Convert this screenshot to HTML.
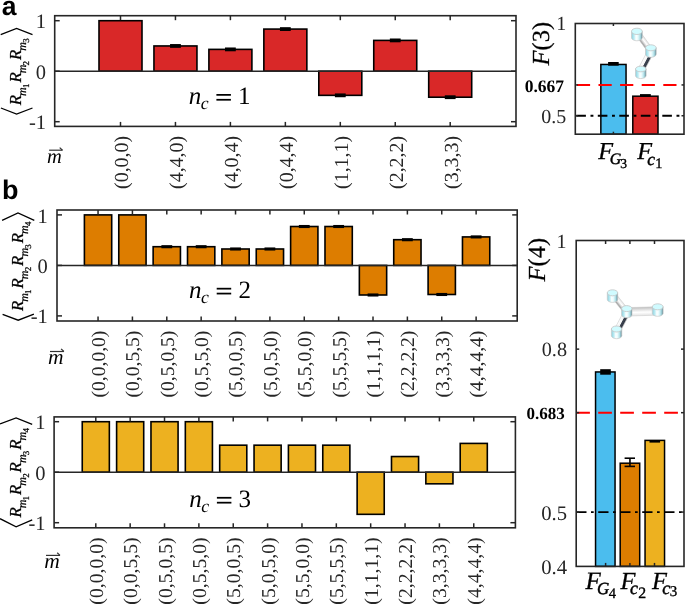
<!DOCTYPE html><html><head><meta charset="utf-8"><style>html,body{margin:0;padding:0;background:#fff;}svg{display:block;will-change:transform;}</style></head><body>
<svg width="685" height="605" viewBox="0 0 685 605" text-rendering="geometricPrecision">
<rect width="685" height="605" fill="#fff"/>
<text x="1.7" y="14.5" font-family='"Liberation Sans", sans-serif' font-weight="bold" font-size="26.5">a</text>
<text x="2" y="199" font-family='"Liberation Sans", sans-serif' font-weight="bold" font-size="27">b</text>
<rect x="99" y="20.7" width="43" height="50.5" fill="#d92828" stroke="#000" stroke-width="1.6"/>
<rect x="153.95" y="45.95" width="43" height="25.25" fill="#d92828" stroke="#000" stroke-width="1.6"/>
<rect x="170.05" y="44.05" width="10.8" height="3.8" fill="#000"/>
<rect x="208.9" y="49.38" width="43" height="21.82" fill="#d92828" stroke="#000" stroke-width="1.6"/>
<rect x="225" y="47.48" width="10.8" height="3.8" fill="#000"/>
<rect x="263.85" y="29.08" width="43" height="42.12" fill="#d92828" stroke="#000" stroke-width="1.6"/>
<rect x="279.95" y="27.18" width="10.8" height="3.8" fill="#000"/>
<rect x="318.8" y="71.2" width="43" height="24.14" fill="#d92828" stroke="#000" stroke-width="1.6"/>
<rect x="334.9" y="93.44" width="10.8" height="3.8" fill="#000"/>
<rect x="373.75" y="40.4" width="43" height="30.8" fill="#d92828" stroke="#000" stroke-width="1.6"/>
<rect x="389.85" y="38.5" width="10.8" height="3.8" fill="#000"/>
<rect x="428.7" y="71.2" width="43" height="26.01" fill="#d92828" stroke="#000" stroke-width="1.6"/>
<rect x="444.8" y="95.31" width="10.8" height="3.8" fill="#000"/>
<line x1="54.7" y1="71.2" x2="516" y2="71.2" stroke="#262626" stroke-width="1.5"/>
<rect x="54.7" y="15.7" width="461.3" height="110.7" fill="none" stroke="#262626" stroke-width="1.6"/>
<line x1="54.7" y1="20.7" x2="59.7" y2="20.7" stroke="#262626" stroke-width="1.5"/>
<line x1="516" y1="20.7" x2="511" y2="20.7" stroke="#262626" stroke-width="1.5"/>
<line x1="54.7" y1="71.2" x2="59.7" y2="71.2" stroke="#262626" stroke-width="1.5"/>
<line x1="516" y1="71.2" x2="511" y2="71.2" stroke="#262626" stroke-width="1.5"/>
<line x1="54.7" y1="121.7" x2="59.7" y2="121.7" stroke="#262626" stroke-width="1.5"/>
<line x1="516" y1="121.7" x2="511" y2="121.7" stroke="#262626" stroke-width="1.5"/>
<line x1="120.5" y1="15.7" x2="120.5" y2="20.2" stroke="#262626" stroke-width="1.5"/>
<line x1="120.5" y1="126.4" x2="120.5" y2="121.9" stroke="#262626" stroke-width="1.5"/>
<line x1="175.45" y1="15.7" x2="175.45" y2="20.2" stroke="#262626" stroke-width="1.5"/>
<line x1="175.45" y1="126.4" x2="175.45" y2="121.9" stroke="#262626" stroke-width="1.5"/>
<line x1="230.4" y1="15.7" x2="230.4" y2="20.2" stroke="#262626" stroke-width="1.5"/>
<line x1="230.4" y1="126.4" x2="230.4" y2="121.9" stroke="#262626" stroke-width="1.5"/>
<line x1="285.35" y1="15.7" x2="285.35" y2="20.2" stroke="#262626" stroke-width="1.5"/>
<line x1="285.35" y1="126.4" x2="285.35" y2="121.9" stroke="#262626" stroke-width="1.5"/>
<line x1="340.3" y1="15.7" x2="340.3" y2="20.2" stroke="#262626" stroke-width="1.5"/>
<line x1="340.3" y1="126.4" x2="340.3" y2="121.9" stroke="#262626" stroke-width="1.5"/>
<line x1="395.25" y1="15.7" x2="395.25" y2="20.2" stroke="#262626" stroke-width="1.5"/>
<line x1="395.25" y1="126.4" x2="395.25" y2="121.9" stroke="#262626" stroke-width="1.5"/>
<line x1="450.2" y1="15.7" x2="450.2" y2="20.2" stroke="#262626" stroke-width="1.5"/>
<line x1="450.2" y1="126.4" x2="450.2" y2="121.9" stroke="#262626" stroke-width="1.5"/>
<text x="46" y="28" text-anchor="end" font-family='"Liberation Serif", serif' font-size="20.5" fill="#262626">1</text>
<text x="46" y="79" text-anchor="end" font-family='"Liberation Serif", serif' font-size="20.5" fill="#262626">0</text>
<text x="46" y="129" text-anchor="end" font-family='"Liberation Serif", serif' font-size="20.5" fill="#262626">-1</text>
<text transform="translate(127.7,135.9) rotate(-90)" text-anchor="end" font-family='"Liberation Serif", serif' font-size="19.9" fill="#262626">(0,0,0)</text>
<text transform="translate(182.7,135.9) rotate(-90)" text-anchor="end" font-family='"Liberation Serif", serif' font-size="19.9" fill="#262626">(4,4,0)</text>
<text transform="translate(237.7,135.9) rotate(-90)" text-anchor="end" font-family='"Liberation Serif", serif' font-size="19.9" fill="#262626">(4,0,4)</text>
<text transform="translate(292.7,135.9) rotate(-90)" text-anchor="end" font-family='"Liberation Serif", serif' font-size="19.9" fill="#262626">(0,4,4)</text>
<text transform="translate(347.7,135.9) rotate(-90)" text-anchor="end" font-family='"Liberation Serif", serif' font-size="19.9" fill="#262626">(1,1,1)</text>
<text transform="translate(402.7,135.9) rotate(-90)" text-anchor="end" font-family='"Liberation Serif", serif' font-size="19.9" fill="#262626">(2,2,2)</text>
<text transform="translate(457.7,135.9) rotate(-90)" text-anchor="end" font-family='"Liberation Serif", serif' font-size="19.9" fill="#262626">(3,3,3)</text>
<text x="46.9" y="162.5" font-family='"Liberation Serif", serif' font-style="italic" font-size="20.5" fill="#000">m</text>
<line x1="49.1" y1="150.2" x2="62.5" y2="150.2" stroke="#333" stroke-width="1.2"/>
<path d="M59.7 147.6 L62.5 150.2" stroke="#333" stroke-width="1.2" fill="none"/>
<text x="188.7" y="103.8" font-family='"Liberation Serif", serif' font-style="italic" font-size="25" fill="#000">n</text>
<text x="200.8" y="109.4" font-family='"Liberation Serif", serif' font-style="italic" font-size="17.7" fill="#000">c</text>
<rect x="216.4" y="94" width="14.5" height="1.75" fill="#000"/>
<rect x="216.4" y="98.9" width="14.5" height="1.75" fill="#000"/>
<text x="238.1" y="104" font-family='"Liberation Serif", serif' font-size="25" fill="#000">1</text>
<text transform="translate(21.1,105.2) rotate(-90)" font-family='"Liberation Serif", serif' font-size="16.8" fill="#000" stroke="#000" stroke-width="0.25"><tspan x="0" y="0" font-style="italic">R</tspan><tspan x="9.3" y="5.3" font-style="italic" font-size="12">m</tspan><tspan x="17.2" y="7.6" font-size="9">1</tspan><tspan x="22.6" y="0" font-style="italic">R</tspan><tspan x="31.9" y="5.3" font-style="italic" font-size="12">m</tspan><tspan x="39.8" y="7.6" font-size="9">2</tspan><tspan x="45.2" y="0" font-style="italic">R</tspan><tspan x="54.5" y="5.3" font-style="italic" font-size="12">m</tspan><tspan x="62.4" y="7.6" font-size="9">3</tspan></text>
<polyline points="0.7,34.6 16.6,28.5 32.5,34.6" fill="none" stroke="#000" stroke-width="1.3"/>
<polyline points="0.9,108 16.6,114.1 32.5,108" fill="none" stroke="#000" stroke-width="1.3"/>
<rect x="84.4" y="214.9" width="27.3" height="50.5" fill="#dd7d00" stroke="#000" stroke-width="1.6"/>
<rect x="118.77" y="214.9" width="27.3" height="50.5" fill="#dd7d00" stroke="#000" stroke-width="1.6"/>
<rect x="153.14" y="246.71" width="27.3" height="18.69" fill="#dd7d00" stroke="#000" stroke-width="1.6"/>
<rect x="161.39" y="245.16" width="10.8" height="3.1" fill="#000"/>
<rect x="187.51" y="246.71" width="27.3" height="18.69" fill="#dd7d00" stroke="#000" stroke-width="1.6"/>
<rect x="195.76" y="245.16" width="10.8" height="3.1" fill="#000"/>
<rect x="221.88" y="248.99" width="27.3" height="16.41" fill="#dd7d00" stroke="#000" stroke-width="1.6"/>
<rect x="230.13" y="247.44" width="10.8" height="3.1" fill="#000"/>
<rect x="256.25" y="248.99" width="27.3" height="16.41" fill="#dd7d00" stroke="#000" stroke-width="1.6"/>
<rect x="264.5" y="247.44" width="10.8" height="3.1" fill="#000"/>
<rect x="290.62" y="226.51" width="27.3" height="38.88" fill="#dd7d00" stroke="#000" stroke-width="1.6"/>
<rect x="298.87" y="224.96" width="10.8" height="3.1" fill="#000"/>
<rect x="324.99" y="226.51" width="27.3" height="38.88" fill="#dd7d00" stroke="#000" stroke-width="1.6"/>
<rect x="333.24" y="224.96" width="10.8" height="3.1" fill="#000"/>
<rect x="359.36" y="265.4" width="27.3" height="29.59" fill="#dd7d00" stroke="#000" stroke-width="1.6"/>
<rect x="367.61" y="293.44" width="10.8" height="3.1" fill="#000"/>
<rect x="393.73" y="239.7" width="27.3" height="25.7" fill="#dd7d00" stroke="#000" stroke-width="1.6"/>
<rect x="401.98" y="238.15" width="10.8" height="3.1" fill="#000"/>
<rect x="428.1" y="265.4" width="27.3" height="29.09" fill="#dd7d00" stroke="#000" stroke-width="1.6"/>
<rect x="436.35" y="292.94" width="10.8" height="3.1" fill="#000"/>
<rect x="462.47" y="236.92" width="27.3" height="28.48" fill="#dd7d00" stroke="#000" stroke-width="1.6"/>
<rect x="470.72" y="235.37" width="10.8" height="3.1" fill="#000"/>
<line x1="57" y1="265.4" x2="517.2" y2="265.4" stroke="#262626" stroke-width="1.5"/>
<rect x="57" y="210" width="460.2" height="111" fill="none" stroke="#262626" stroke-width="1.6"/>
<line x1="57" y1="214.9" x2="62" y2="214.9" stroke="#262626" stroke-width="1.5"/>
<line x1="517.2" y1="214.9" x2="512.2" y2="214.9" stroke="#262626" stroke-width="1.5"/>
<line x1="57" y1="265.4" x2="62" y2="265.4" stroke="#262626" stroke-width="1.5"/>
<line x1="517.2" y1="265.4" x2="512.2" y2="265.4" stroke="#262626" stroke-width="1.5"/>
<line x1="57" y1="315.9" x2="62" y2="315.9" stroke="#262626" stroke-width="1.5"/>
<line x1="517.2" y1="315.9" x2="512.2" y2="315.9" stroke="#262626" stroke-width="1.5"/>
<line x1="98.05" y1="210" x2="98.05" y2="214.5" stroke="#262626" stroke-width="1.5"/>
<line x1="98.05" y1="321" x2="98.05" y2="316.5" stroke="#262626" stroke-width="1.5"/>
<line x1="132.42" y1="210" x2="132.42" y2="214.5" stroke="#262626" stroke-width="1.5"/>
<line x1="132.42" y1="321" x2="132.42" y2="316.5" stroke="#262626" stroke-width="1.5"/>
<line x1="166.79" y1="210" x2="166.79" y2="214.5" stroke="#262626" stroke-width="1.5"/>
<line x1="166.79" y1="321" x2="166.79" y2="316.5" stroke="#262626" stroke-width="1.5"/>
<line x1="201.16" y1="210" x2="201.16" y2="214.5" stroke="#262626" stroke-width="1.5"/>
<line x1="201.16" y1="321" x2="201.16" y2="316.5" stroke="#262626" stroke-width="1.5"/>
<line x1="235.53" y1="210" x2="235.53" y2="214.5" stroke="#262626" stroke-width="1.5"/>
<line x1="235.53" y1="321" x2="235.53" y2="316.5" stroke="#262626" stroke-width="1.5"/>
<line x1="269.9" y1="210" x2="269.9" y2="214.5" stroke="#262626" stroke-width="1.5"/>
<line x1="269.9" y1="321" x2="269.9" y2="316.5" stroke="#262626" stroke-width="1.5"/>
<line x1="304.27" y1="210" x2="304.27" y2="214.5" stroke="#262626" stroke-width="1.5"/>
<line x1="304.27" y1="321" x2="304.27" y2="316.5" stroke="#262626" stroke-width="1.5"/>
<line x1="338.64" y1="210" x2="338.64" y2="214.5" stroke="#262626" stroke-width="1.5"/>
<line x1="338.64" y1="321" x2="338.64" y2="316.5" stroke="#262626" stroke-width="1.5"/>
<line x1="373.01" y1="210" x2="373.01" y2="214.5" stroke="#262626" stroke-width="1.5"/>
<line x1="373.01" y1="321" x2="373.01" y2="316.5" stroke="#262626" stroke-width="1.5"/>
<line x1="407.38" y1="210" x2="407.38" y2="214.5" stroke="#262626" stroke-width="1.5"/>
<line x1="407.38" y1="321" x2="407.38" y2="316.5" stroke="#262626" stroke-width="1.5"/>
<line x1="441.75" y1="210" x2="441.75" y2="214.5" stroke="#262626" stroke-width="1.5"/>
<line x1="441.75" y1="321" x2="441.75" y2="316.5" stroke="#262626" stroke-width="1.5"/>
<line x1="476.12" y1="210" x2="476.12" y2="214.5" stroke="#262626" stroke-width="1.5"/>
<line x1="476.12" y1="321" x2="476.12" y2="316.5" stroke="#262626" stroke-width="1.5"/>
<text x="47.8" y="223" text-anchor="end" font-family='"Liberation Serif", serif' font-size="20.5" fill="#262626">1</text>
<text x="47.8" y="273" text-anchor="end" font-family='"Liberation Serif", serif' font-size="20.5" fill="#262626">0</text>
<text x="47.8" y="323" text-anchor="end" font-family='"Liberation Serif", serif' font-size="20.5" fill="#262626">-1</text>
<text transform="translate(104.95,330.6) rotate(-90)" text-anchor="end" font-family='"Liberation Serif", serif' font-size="19.6" fill="#262626">(0,0,0,0)</text>
<text transform="translate(139.32,330.6) rotate(-90)" text-anchor="end" font-family='"Liberation Serif", serif' font-size="19.6" fill="#262626">(0,0,5,5)</text>
<text transform="translate(173.69,330.6) rotate(-90)" text-anchor="end" font-family='"Liberation Serif", serif' font-size="19.6" fill="#262626">(0,5,0,5)</text>
<text transform="translate(208.06,330.6) rotate(-90)" text-anchor="end" font-family='"Liberation Serif", serif' font-size="19.6" fill="#262626">(0,5,5,0)</text>
<text transform="translate(242.43,330.6) rotate(-90)" text-anchor="end" font-family='"Liberation Serif", serif' font-size="19.6" fill="#262626">(5,0,0,5)</text>
<text transform="translate(276.8,330.6) rotate(-90)" text-anchor="end" font-family='"Liberation Serif", serif' font-size="19.6" fill="#262626">(5,0,5,0)</text>
<text transform="translate(311.17,330.6) rotate(-90)" text-anchor="end" font-family='"Liberation Serif", serif' font-size="19.6" fill="#262626">(5,5,0,0)</text>
<text transform="translate(345.54,330.6) rotate(-90)" text-anchor="end" font-family='"Liberation Serif", serif' font-size="19.6" fill="#262626">(5,5,5,5)</text>
<text transform="translate(379.91,330.6) rotate(-90)" text-anchor="end" font-family='"Liberation Serif", serif' font-size="19.6" fill="#262626">(1,1,1,1)</text>
<text transform="translate(414.28,330.6) rotate(-90)" text-anchor="end" font-family='"Liberation Serif", serif' font-size="19.6" fill="#262626">(2,2,2,2)</text>
<text transform="translate(448.65,330.6) rotate(-90)" text-anchor="end" font-family='"Liberation Serif", serif' font-size="19.6" fill="#262626">(3,3,3,3)</text>
<text transform="translate(483.02,330.6) rotate(-90)" text-anchor="end" font-family='"Liberation Serif", serif' font-size="19.6" fill="#262626">(4,4,4,4)</text>
<text x="48.1" y="364.3" font-family='"Liberation Serif", serif' font-style="italic" font-size="21.5" fill="#000">m</text>
<line x1="50" y1="351.5" x2="63.9" y2="351.5" stroke="#333" stroke-width="1.2"/>
<path d="M61.1 348.9 L63.9 351.5" stroke="#333" stroke-width="1.2" fill="none"/>
<text x="189" y="297.6" font-family='"Liberation Serif", serif' font-style="italic" font-size="25" fill="#000">n</text>
<text x="201.1" y="303.2" font-family='"Liberation Serif", serif' font-style="italic" font-size="17.7" fill="#000">c</text>
<rect x="216.7" y="287.8" width="14.5" height="1.75" fill="#000"/>
<rect x="216.7" y="292.7" width="14.5" height="1.75" fill="#000"/>
<text x="238.4" y="297.8" font-family='"Liberation Serif", serif' font-size="25" fill="#000">2</text>
<text transform="translate(22.9,311.1) rotate(-90)" font-family='"Liberation Serif", serif' font-size="16.8" fill="#000" stroke="#000" stroke-width="0.25"><tspan x="0" y="0" font-style="italic">R</tspan><tspan x="9.3" y="5.3" font-style="italic" font-size="12">m</tspan><tspan x="17.2" y="7.6" font-size="9">1</tspan><tspan x="22.6" y="0" font-style="italic">R</tspan><tspan x="31.9" y="5.3" font-style="italic" font-size="12">m</tspan><tspan x="39.8" y="7.6" font-size="9">2</tspan><tspan x="45.2" y="0" font-style="italic">R</tspan><tspan x="54.5" y="5.3" font-style="italic" font-size="12">m</tspan><tspan x="62.4" y="7.6" font-size="9">3</tspan><tspan x="67.8" y="0" font-style="italic">R</tspan><tspan x="77.1" y="5.3" font-style="italic" font-size="12">m</tspan><tspan x="85" y="7.6" font-size="9">4</tspan></text>
<polyline points="2.1,220.4 18,212.9 34.3,220.4" fill="none" stroke="#000" stroke-width="1.3"/>
<polyline points="2.6,314.3 18.2,320.2 33.9,314.1" fill="none" stroke="#000" stroke-width="1.3"/>
<rect x="82.25" y="421.7" width="27.1" height="50.5" fill="#edb120" stroke="#000" stroke-width="1.6"/>
<rect x="116.61" y="421.7" width="27.1" height="50.5" fill="#edb120" stroke="#000" stroke-width="1.6"/>
<rect x="150.97" y="421.7" width="27.1" height="50.5" fill="#edb120" stroke="#000" stroke-width="1.6"/>
<rect x="185.33" y="421.7" width="27.1" height="50.5" fill="#edb120" stroke="#000" stroke-width="1.6"/>
<rect x="219.69" y="445.18" width="27.1" height="27.02" fill="#edb120" stroke="#000" stroke-width="1.6"/>
<rect x="254.05" y="445.18" width="27.1" height="27.02" fill="#edb120" stroke="#000" stroke-width="1.6"/>
<rect x="288.41" y="445.18" width="27.1" height="27.02" fill="#edb120" stroke="#000" stroke-width="1.6"/>
<rect x="322.77" y="445.18" width="27.1" height="27.02" fill="#edb120" stroke="#000" stroke-width="1.6"/>
<rect x="357.13" y="472.2" width="27.1" height="42.12" fill="#edb120" stroke="#000" stroke-width="1.6"/>
<rect x="391.49" y="456.55" width="27.1" height="15.65" fill="#edb120" stroke="#000" stroke-width="1.6"/>
<rect x="425.85" y="472.2" width="27.1" height="11.62" fill="#edb120" stroke="#000" stroke-width="1.6"/>
<rect x="460.21" y="443.41" width="27.1" height="28.79" fill="#edb120" stroke="#000" stroke-width="1.6"/>
<line x1="54.1" y1="472.2" x2="515.4" y2="472.2" stroke="#262626" stroke-width="1.5"/>
<rect x="54.1" y="416.9" width="461.3" height="110.9" fill="none" stroke="#262626" stroke-width="1.6"/>
<line x1="54.1" y1="421.7" x2="59.1" y2="421.7" stroke="#262626" stroke-width="1.5"/>
<line x1="515.4" y1="421.7" x2="510.4" y2="421.7" stroke="#262626" stroke-width="1.5"/>
<line x1="54.1" y1="472.2" x2="59.1" y2="472.2" stroke="#262626" stroke-width="1.5"/>
<line x1="515.4" y1="472.2" x2="510.4" y2="472.2" stroke="#262626" stroke-width="1.5"/>
<line x1="54.1" y1="522.7" x2="59.1" y2="522.7" stroke="#262626" stroke-width="1.5"/>
<line x1="515.4" y1="522.7" x2="510.4" y2="522.7" stroke="#262626" stroke-width="1.5"/>
<line x1="95.8" y1="416.9" x2="95.8" y2="421.4" stroke="#262626" stroke-width="1.5"/>
<line x1="95.8" y1="527.8" x2="95.8" y2="523.3" stroke="#262626" stroke-width="1.5"/>
<line x1="130.16" y1="416.9" x2="130.16" y2="421.4" stroke="#262626" stroke-width="1.5"/>
<line x1="130.16" y1="527.8" x2="130.16" y2="523.3" stroke="#262626" stroke-width="1.5"/>
<line x1="164.52" y1="416.9" x2="164.52" y2="421.4" stroke="#262626" stroke-width="1.5"/>
<line x1="164.52" y1="527.8" x2="164.52" y2="523.3" stroke="#262626" stroke-width="1.5"/>
<line x1="198.88" y1="416.9" x2="198.88" y2="421.4" stroke="#262626" stroke-width="1.5"/>
<line x1="198.88" y1="527.8" x2="198.88" y2="523.3" stroke="#262626" stroke-width="1.5"/>
<line x1="233.24" y1="416.9" x2="233.24" y2="421.4" stroke="#262626" stroke-width="1.5"/>
<line x1="233.24" y1="527.8" x2="233.24" y2="523.3" stroke="#262626" stroke-width="1.5"/>
<line x1="267.6" y1="416.9" x2="267.6" y2="421.4" stroke="#262626" stroke-width="1.5"/>
<line x1="267.6" y1="527.8" x2="267.6" y2="523.3" stroke="#262626" stroke-width="1.5"/>
<line x1="301.96" y1="416.9" x2="301.96" y2="421.4" stroke="#262626" stroke-width="1.5"/>
<line x1="301.96" y1="527.8" x2="301.96" y2="523.3" stroke="#262626" stroke-width="1.5"/>
<line x1="336.32" y1="416.9" x2="336.32" y2="421.4" stroke="#262626" stroke-width="1.5"/>
<line x1="336.32" y1="527.8" x2="336.32" y2="523.3" stroke="#262626" stroke-width="1.5"/>
<line x1="370.68" y1="416.9" x2="370.68" y2="421.4" stroke="#262626" stroke-width="1.5"/>
<line x1="370.68" y1="527.8" x2="370.68" y2="523.3" stroke="#262626" stroke-width="1.5"/>
<line x1="405.04" y1="416.9" x2="405.04" y2="421.4" stroke="#262626" stroke-width="1.5"/>
<line x1="405.04" y1="527.8" x2="405.04" y2="523.3" stroke="#262626" stroke-width="1.5"/>
<line x1="439.4" y1="416.9" x2="439.4" y2="421.4" stroke="#262626" stroke-width="1.5"/>
<line x1="439.4" y1="527.8" x2="439.4" y2="523.3" stroke="#262626" stroke-width="1.5"/>
<line x1="473.76" y1="416.9" x2="473.76" y2="421.4" stroke="#262626" stroke-width="1.5"/>
<line x1="473.76" y1="527.8" x2="473.76" y2="523.3" stroke="#262626" stroke-width="1.5"/>
<text x="45.5" y="429" text-anchor="end" font-family='"Liberation Serif", serif' font-size="20.5" fill="#262626">1</text>
<text x="45.5" y="480" text-anchor="end" font-family='"Liberation Serif", serif' font-size="20.5" fill="#262626">0</text>
<text x="45.5" y="530" text-anchor="end" font-family='"Liberation Serif", serif' font-size="20.5" fill="#262626">-1</text>
<text transform="translate(102.8,537.4) rotate(-90)" text-anchor="end" font-family='"Liberation Serif", serif' font-size="19.7" fill="#262626">(0,0,0,0)</text>
<text transform="translate(137.16,537.4) rotate(-90)" text-anchor="end" font-family='"Liberation Serif", serif' font-size="19.7" fill="#262626">(0,0,5,5)</text>
<text transform="translate(171.52,537.4) rotate(-90)" text-anchor="end" font-family='"Liberation Serif", serif' font-size="19.7" fill="#262626">(0,5,0,5)</text>
<text transform="translate(205.88,537.4) rotate(-90)" text-anchor="end" font-family='"Liberation Serif", serif' font-size="19.7" fill="#262626">(0,5,5,0)</text>
<text transform="translate(240.24,537.4) rotate(-90)" text-anchor="end" font-family='"Liberation Serif", serif' font-size="19.7" fill="#262626">(5,0,0,5)</text>
<text transform="translate(274.6,537.4) rotate(-90)" text-anchor="end" font-family='"Liberation Serif", serif' font-size="19.7" fill="#262626">(5,0,5,0)</text>
<text transform="translate(308.96,537.4) rotate(-90)" text-anchor="end" font-family='"Liberation Serif", serif' font-size="19.7" fill="#262626">(5,5,0,0)</text>
<text transform="translate(343.32,537.4) rotate(-90)" text-anchor="end" font-family='"Liberation Serif", serif' font-size="19.7" fill="#262626">(5,5,5,5)</text>
<text transform="translate(377.68,537.4) rotate(-90)" text-anchor="end" font-family='"Liberation Serif", serif' font-size="19.7" fill="#262626">(1,1,1,1)</text>
<text transform="translate(412.04,537.4) rotate(-90)" text-anchor="end" font-family='"Liberation Serif", serif' font-size="19.7" fill="#262626">(2,2,2,2)</text>
<text transform="translate(446.4,537.4) rotate(-90)" text-anchor="end" font-family='"Liberation Serif", serif' font-size="19.7" fill="#262626">(3,3,3,3)</text>
<text transform="translate(480.76,537.4) rotate(-90)" text-anchor="end" font-family='"Liberation Serif", serif' font-size="19.7" fill="#262626">(4,4,4,4)</text>
<text x="44.3" y="568.1" font-family='"Liberation Serif", serif' font-style="italic" font-size="21.5" fill="#000">m</text>
<line x1="46" y1="555.4" x2="60" y2="555.4" stroke="#333" stroke-width="1.2"/>
<path d="M57.2 552.8 L60 555.4" stroke="#333" stroke-width="1.2" fill="none"/>
<text x="189.2" y="506.7" font-family='"Liberation Serif", serif' font-style="italic" font-size="25" fill="#000">n</text>
<text x="201.3" y="512.3" font-family='"Liberation Serif", serif' font-style="italic" font-size="17.7" fill="#000">c</text>
<rect x="216.9" y="496.9" width="14.5" height="1.75" fill="#000"/>
<rect x="216.9" y="501.8" width="14.5" height="1.75" fill="#000"/>
<text x="238.6" y="506.9" font-family='"Liberation Serif", serif' font-size="25" fill="#000">3</text>
<text transform="translate(20.9,517.6) rotate(-90)" font-family='"Liberation Serif", serif' font-size="16.8" fill="#000" stroke="#000" stroke-width="0.25"><tspan x="0" y="0" font-style="italic">R</tspan><tspan x="9.3" y="5.3" font-style="italic" font-size="12">m</tspan><tspan x="17.2" y="7.6" font-size="9">1</tspan><tspan x="22.6" y="0" font-style="italic">R</tspan><tspan x="31.9" y="5.3" font-style="italic" font-size="12">m</tspan><tspan x="39.8" y="7.6" font-size="9">2</tspan><tspan x="45.2" y="0" font-style="italic">R</tspan><tspan x="54.5" y="5.3" font-style="italic" font-size="12">m</tspan><tspan x="62.4" y="7.6" font-size="9">3</tspan><tspan x="67.8" y="0" font-style="italic">R</tspan><tspan x="77.1" y="5.3" font-style="italic" font-size="12">m</tspan><tspan x="85" y="7.6" font-size="9">4</tspan></text>
<polyline points="0,423.9 16.1,417.9 32.2,424.3" fill="none" stroke="#000" stroke-width="1.3"/>
<polyline points="0,518.7 16.1,526.9 32.2,519.8" fill="none" stroke="#000" stroke-width="1.3"/>
<rect x="600.85" y="64.46" width="25.2" height="69.74" fill="#4bbdee" stroke="#000" stroke-width="1.5"/>
<rect x="632.8" y="96.19" width="25.2" height="38.01" fill="#d92828" stroke="#000" stroke-width="1.5"/>
<rect x="608.1" y="62" width="10.6" height="3.7" fill="#000"/>
<rect x="640" y="94.1" width="10.8" height="2.8" fill="#000"/>
<line x1="576.9" y1="84.94" x2="683.2" y2="84.94" stroke="#ff0000" stroke-width="2" stroke-dasharray="13.2 8.4"/>
<line x1="576.3" y1="115.75" x2="683.2" y2="115.75" stroke="#000" stroke-width="1.8" stroke-dasharray="9.6 4.6 2.9 4.4"/>
<line x1="575.3" y1="115.75" x2="577.8" y2="115.75" stroke="#262626" stroke-width="1.5"/>
<line x1="684" y1="115.75" x2="681.5" y2="115.75" stroke="#262626" stroke-width="1.5"/>
<line x1="575.3" y1="84.94" x2="577.8" y2="84.94" stroke="#262626" stroke-width="1.5"/>
<line x1="684" y1="84.94" x2="681.5" y2="84.94" stroke="#262626" stroke-width="1.5"/>
<line x1="613.4" y1="23.5" x2="613.4" y2="26" stroke="#262626" stroke-width="1.5"/>
<line x1="613.4" y1="134.2" x2="613.4" y2="131.7" stroke="#262626" stroke-width="1.5"/>
<rect x="575.3" y="23.5" width="108.7" height="110.7" fill="none" stroke="#262626" stroke-width="1.6"/>
<text x="566.2" y="30.4" text-anchor="end" font-family='"Liberation Serif", serif' font-size="20" fill="#262626">1</text>
<text x="564.1" y="91.7" text-anchor="end" font-family='"Liberation Serif", serif' font-weight="bold" font-size="17.5" fill="#000">0.667</text>
<text x="566.2" y="123.1" text-anchor="end" font-family='"Liberation Serif", serif' font-size="20" fill="#262626">0.5</text>
<text transform="translate(549.1,65.5) rotate(-90)" font-family='"Liberation Serif", serif' font-size="24.5" fill="#000" stroke="#000" stroke-width="0.2"><tspan font-style="italic">F</tspan>(3)</text>
<text x="598.2" y="159.2" font-family='"Liberation Serif", serif' font-style="italic" font-size="24.3" fill="#000" stroke="#000" stroke-width="0.3">F</text>
<text x="609.84" y="164.4" font-family='"Liberation Serif", serif' font-style="italic" font-size="16" fill="#000" stroke="#000" stroke-width="0.45">G</text>
<text x="620.32" y="167.5" font-family='"Liberation Serif", serif' font-size="13.6" fill="#000" stroke="#000" stroke-width="0.35">3</text>
<text x="637.3" y="159.2" font-family='"Liberation Serif", serif' font-style="italic" font-size="24.3" fill="#000" stroke="#000" stroke-width="0.3">F</text>
<text x="647.27" y="164.9" font-family='"Liberation Serif", serif' font-style="italic" font-size="17.5" fill="#000" stroke="#000" stroke-width="0.45">c</text>
<text x="655.3" y="168" font-family='"Liberation Serif", serif' font-size="14.4" fill="#000" stroke="#000" stroke-width="0.35">1</text>
<rect x="595.55" y="371.95" width="19.5" height="194.45" fill="#4bbdee" stroke="#000" stroke-width="1.5"/>
<rect x="620.2" y="463.2" width="19.5" height="103.2" fill="#dd7d00" stroke="#000" stroke-width="1.5"/>
<rect x="645.05" y="440.39" width="19.5" height="126.01" fill="#edb120" stroke="#000" stroke-width="1.5"/>
<rect x="600.2" y="369.2" width="10.6" height="5.5" fill="#000"/>
<rect x="649.5" y="440.6" width="10.6" height="2" fill="#000"/>
<line x1="576.2" y1="412.68" x2="683.2" y2="412.68" stroke="#ff0000" stroke-width="2" stroke-dasharray="13.7 8.3"/>
<line x1="576.2" y1="512.08" x2="683.2" y2="512.08" stroke="#000" stroke-width="1.8" stroke-dasharray="10.3 4.5 2.7 4.5"/>
<line x1="576.2" y1="349.13" x2="579.2" y2="349.13" stroke="#262626" stroke-width="1.5"/>
<line x1="684" y1="349.13" x2="681" y2="349.13" stroke="#262626" stroke-width="1.5"/>
<line x1="576.2" y1="412.68" x2="579.2" y2="412.68" stroke="#262626" stroke-width="1.5"/>
<line x1="684" y1="412.68" x2="681" y2="412.68" stroke="#262626" stroke-width="1.5"/>
<line x1="576.2" y1="512.08" x2="579.2" y2="512.08" stroke="#262626" stroke-width="1.5"/>
<line x1="684" y1="512.08" x2="681" y2="512.08" stroke="#262626" stroke-width="1.5"/>
<line x1="605.6" y1="240.5" x2="605.6" y2="244" stroke="#262626" stroke-width="1.5"/>
<line x1="605.6" y1="566.4" x2="605.6" y2="562.9" stroke="#262626" stroke-width="1.5"/>
<line x1="629.9" y1="240.5" x2="629.9" y2="244" stroke="#262626" stroke-width="1.5"/>
<line x1="629.9" y1="566.4" x2="629.9" y2="562.9" stroke="#262626" stroke-width="1.5"/>
<line x1="654.5" y1="240.5" x2="654.5" y2="244" stroke="#262626" stroke-width="1.5"/>
<line x1="654.5" y1="566.4" x2="654.5" y2="562.9" stroke="#262626" stroke-width="1.5"/>
<rect x="576.2" y="240.5" width="107.8" height="325.9" fill="none" stroke="#262626" stroke-width="1.6"/>
<line x1="629.95" y1="458.2" x2="629.95" y2="466.4" stroke="#000" stroke-width="1.6"/>
<line x1="624.6" y1="458.2" x2="635.0" y2="458.2" stroke="#000" stroke-width="1.6"/>
<line x1="624.6" y1="466.4" x2="635.0" y2="466.4" stroke="#000" stroke-width="1.6"/>
<text x="566.4" y="247.9" text-anchor="end" font-family='"Liberation Serif", serif' font-size="20" fill="#262626">1</text>
<text x="567" y="356.4" text-anchor="end" font-family='"Liberation Serif", serif' font-size="20.2" fill="#262626">0.8</text>
<text x="564.7" y="419.3" text-anchor="end" font-family='"Liberation Serif", serif' font-weight="bold" font-size="17" fill="#000">0.683</text>
<text x="567" y="520" text-anchor="end" font-family='"Liberation Serif", serif' font-size="20.7" fill="#262626">0.5</text>
<text x="567" y="574.1" text-anchor="end" font-family='"Liberation Serif", serif' font-size="20.7" fill="#262626">0.4</text>
<text transform="translate(545.1,281.5) rotate(-90)" font-family='"Liberation Serif", serif' font-size="24.5" fill="#000" stroke="#000" stroke-width="0.2"><tspan font-style="italic">F</tspan>(4)</text>
<text x="585.4" y="589.2" font-family='"Liberation Serif", serif' font-style="italic" font-size="25" fill="#000" stroke="#000" stroke-width="0.3">F</text>
<text x="597.08" y="594.2" font-family='"Liberation Serif", serif' font-style="italic" font-size="17" fill="#000" stroke="#000" stroke-width="0.45">G</text>
<text x="608.81" y="597.5" font-family='"Liberation Serif", serif' font-size="14.6" fill="#000" stroke="#000" stroke-width="0.35">4</text>
<text x="620.6" y="589.2" font-family='"Liberation Serif", serif' font-style="italic" font-size="24.5" fill="#000" stroke="#000" stroke-width="0.3">F</text>
<text x="630.06" y="594" font-family='"Liberation Serif", serif' font-style="italic" font-size="18" fill="#000" stroke="#000" stroke-width="0.45">c</text>
<text x="638.37" y="597.5" font-family='"Liberation Serif", serif' font-size="15.8" fill="#000" stroke="#000" stroke-width="0.35">2</text>
<text x="652" y="589.2" font-family='"Liberation Serif", serif' font-style="italic" font-size="24.5" fill="#000" stroke="#000" stroke-width="0.3">F</text>
<text x="662.26" y="594" font-family='"Liberation Serif", serif' font-style="italic" font-size="18" fill="#000" stroke="#000" stroke-width="0.45">c</text>
<text x="669.65" y="596.3" font-family='"Liberation Serif", serif' font-size="15" fill="#000" stroke="#000" stroke-width="0.35">3</text>
<defs><linearGradient id="cyl" x1="0" x2="1" y1="0" y2="0"><stop offset="0" stop-color="#8ccfdd"/><stop offset="0.25" stop-color="#bfeef5"/><stop offset="0.42" stop-color="#ffffff"/><stop offset="0.6" stop-color="#e6fbfd"/><stop offset="0.82" stop-color="#a9dbe3"/><stop offset="1" stop-color="#58808c"/></linearGradient><linearGradient id="rodA" x1="0" x2="1" y1="0" y2="0"><stop offset="0" stop-color="#8a8a8a"/><stop offset="0.35" stop-color="#d8d8d8"/><stop offset="0.6" stop-color="#ffffff"/><stop offset="1" stop-color="#e0e0e0"/></linearGradient><linearGradient id="rodB" x1="0" x2="1" y1="0" y2="0"><stop offset="0" stop-color="#ffffff"/><stop offset="0.45" stop-color="#f4f4f4"/><stop offset="0.55" stop-color="#3e4652"/><stop offset="1" stop-color="#2e3440"/></linearGradient><linearGradient id="rodC" x1="0" x2="1" y1="0" y2="0"><stop offset="0" stop-color="#e4e4e4"/><stop offset="0.4" stop-color="#ffffff"/><stop offset="0.75" stop-color="#dcdcdc"/><stop offset="1" stop-color="#bdbdbd"/></linearGradient></defs>
<g transform="translate(639,35) rotate(-36.25)"><rect x="-2.8" y="0" width="5.6" height="18.6" fill="url(#rodA)" stroke="#cfcfcf" stroke-width="0.6"/></g>
<g transform="translate(650,53) rotate(27.90)"><rect x="-3.1" y="0" width="6.2" height="19.24" fill="url(#rodB)" stroke="#cfcfcf" stroke-width="0.6"/></g>
<path d="M631.5 31.35 L631.5 37.65 A5.4 3.15 0 0 0 642.3 37.65 L642.3 31.35 Z" fill="url(#cyl)" stroke="#c9c9c9" stroke-width="0.7"/>
<ellipse cx="636.9" cy="31.35" rx="5.4" ry="3.15" fill="#d0fbff" stroke="#c4c4c4" stroke-width="0.8"/>
<path d="M645.5 47.8 L645.5 54.3 A5.35 3.0 0 0 0 656.2 54.3 L656.2 47.8 Z" fill="url(#cyl)" stroke="#c9c9c9" stroke-width="0.7"/>
<ellipse cx="650.85" cy="47.8" rx="5.35" ry="3.0" fill="#d0fbff" stroke="#c4c4c4" stroke-width="0.8"/>
<path d="M635.5 69 L635.5 75.8 A5.3 2.8 0 0 0 646.1 75.8 L646.1 69 Z" fill="url(#cyl)" stroke="#c9c9c9" stroke-width="0.7"/>
<ellipse cx="640.8" cy="69" rx="5.3" ry="2.8" fill="#d0fbff" stroke="#c4c4c4" stroke-width="0.8"/>
<g transform="translate(614,296) rotate(-38.66)"><rect x="-2.8" y="0" width="5.6" height="19.21" fill="url(#rodA)" stroke="#cfcfcf" stroke-width="0.6"/></g>
<g transform="translate(628,311.8) rotate(-91.64)"><rect x="-4.2" y="0" width="8.4" height="28.01" fill="url(#rodC)" stroke="#cfcfcf" stroke-width="0.6"/></g>
<g transform="translate(626,314) rotate(27.90)"><rect x="-3.1" y="0" width="6.2" height="19.24" fill="url(#rodB)" stroke="#cfcfcf" stroke-width="0.6"/></g>
<path d="M607.3 292.8 L607.3 299.4 A5.2 3.0 0 0 0 617.7 299.4 L617.7 292.8 Z" fill="url(#cyl)" stroke="#c9c9c9" stroke-width="0.7"/>
<ellipse cx="612.5" cy="292.8" rx="5.2" ry="3.0" fill="#d0fbff" stroke="#c4c4c4" stroke-width="0.8"/>
<path d="M621.6 308.6 L621.6 314.8 A5.2 3.0 0 0 0 632 314.8 L632 308.6 Z" fill="url(#cyl)" stroke="#c9c9c9" stroke-width="0.7"/>
<ellipse cx="626.8" cy="308.6" rx="5.2" ry="3.0" fill="#d0fbff" stroke="#c4c4c4" stroke-width="0.8"/>
<path d="M652.3 306.8 L652.3 313.3 A5.4 3.0 0 0 0 663.1 313.3 L663.1 306.8 Z" fill="url(#cyl)" stroke="#c9c9c9" stroke-width="0.7"/>
<ellipse cx="657.7" cy="306.8" rx="5.4" ry="3.0" fill="#d0fbff" stroke="#c4c4c4" stroke-width="0.8"/>
<path d="M611.4 329 L611.4 335.7 A5.2 3.0 0 0 0 621.8 335.7 L621.8 329 Z" fill="url(#cyl)" stroke="#c9c9c9" stroke-width="0.7"/>
<ellipse cx="616.6" cy="329" rx="5.2" ry="3.0" fill="#d0fbff" stroke="#c4c4c4" stroke-width="0.8"/>
</svg></body></html>
